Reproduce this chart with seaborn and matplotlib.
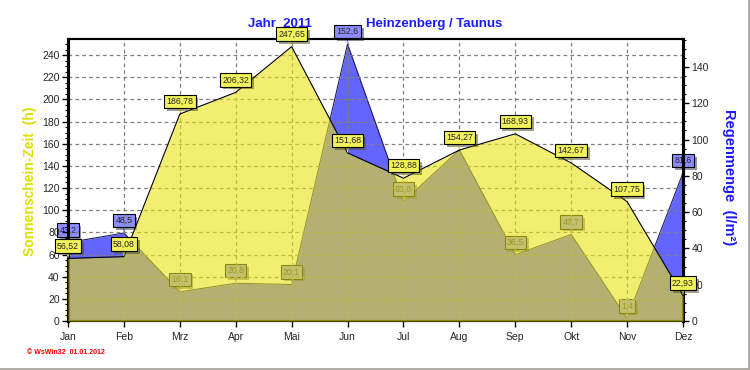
import numpy as np
import pandas as pd
import seaborn as sns
import matplotlib.pyplot as plt
from matplotlib.ticker import MultipleLocator
from matplotlib.lines import Line2D
import matplotlib.patheffects as pe

# Monatswerte 2011
monate = ['Jan', 'Feb', 'Mrz', 'Apr', 'Mai', 'Jun', 'Jul', 'Aug', 'Sep', 'Okt', 'Nov', 'Dez']
sonne = [56.52, 58.08, 186.78, 206.32, 247.65, 151.68, 128.88, 154.27, 168.93, 142.67, 107.75, 22.93]
regen = [43.2, 48.5, 16.1, 20.8, 20.1, 152.6, 65.8, 94.3, 36.5, 47.7, 1.4, 81.6]

df = pd.DataFrame({'monat': monate, 'sonne': sonne, 'regen': regen})
df['pos'] = np.arange(len(df))

sns.set_style('white')
plt.rcParams['font.family'] = ['Liberation Sans', 'DejaVu Sans']

fig = plt.figure(figsize=(7.5, 3.7), dpi=100)
ax = fig.add_axes([68/750, 1-321/370, 615/750, 282/370])
ax2 = ax.twinx()

# Sonne oben zeichnen (halbtransparent ueber Regen)
ax.set_zorder(ax2.get_zorder() + 1)
ax.patch.set_visible(False)
ax2.patch.set_facecolor('white')

# Regenmenge
ax2.fill_between(df['pos'], 0, df['regen'], color='#6464ff', lw=0, zorder=1)
sns.lineplot(data=df, x='pos', y='regen', ax=ax2, color='#202060', lw=0.8, zorder=2)

# Sonnenschein
ax.fill_between(df['pos'], 0, df['sonne'], color='#e8e414', alpha=0.6, lw=0, zorder=3)
sns.lineplot(data=df, x='pos', y='sonne', ax=ax, color='black', lw=0.8, zorder=4)

ax.grid(True, color='#808080', linestyle=(0, (3, 2.5)), linewidth=0.9)
ax.set_axisbelow(True)


def label(axis, x, y, txt, fc, z):
    t = axis.annotate(txt, (x, y), xytext=(0, 9), textcoords='offset points',
                      ha='center', va='center', fontsize=6.3, zorder=z,
                      bbox=dict(boxstyle='square,pad=0.25', fc=fc, ec='black', lw=0.8),
                      arrowprops=dict(arrowstyle='wedge,tail_width=0.35,shrink_factor=0.5',
                                      fc=fc, ec='none', shrinkA=0, shrinkB=0))
    t.get_bbox_patch().set_path_effects([pe.SimplePatchShadow(offset=(2, -2), alpha=0.5), pe.Normal()])
    return t


for i, v in enumerate(regen):
    if monate[i] == 'Aug':
        continue
    label(ax2, i, v, f'{v:g}'.replace('.', ','), '#8c8cff', 5)
for i, v in enumerate(sonne):
    label(ax, i, v, f'{v:.2f}'.replace('.', ','), '#f2f25a', 6)

ax.set_xlim(0, 11)
ax.set_xticks(df['pos'], monate)
ax.xaxis.set_minor_locator(MultipleLocator(0.25))
ax.yaxis.set_major_locator(MultipleLocator(20))
ax.yaxis.set_minor_locator(MultipleLocator(5))
ax2.yaxis.set_major_locator(MultipleLocator(20))
ax2.yaxis.set_minor_locator(MultipleLocator(5))
ax.set_ylim(0, 254.5)
ax2.set_ylim(0, 155.4)
ax.set_xlabel('')
ax.set_ylabel('')
ax2.set_ylabel('')

for a in (ax, ax2):
    a.tick_params(which='major', direction='out', length=4, width=1, labelsize=7.5, color='black', pad=2)
    a.tick_params(which='minor', direction='out', length=2, width=0.8, color='black')
    for s in a.spines.values():
        s.set_color('black')
    a.spines['left'].set_linewidth(2.2)
    a.spines['right'].set_linewidth(2.2)
    a.spines['top'].set_linewidth(1.5)
    a.spines['bottom'].set_linewidth(1.5)
ax.tick_params(axis='y', which='both', left=True, right=False)
ax.tick_params(axis='x', which='major', bottom=True, pad=4)
ax2.tick_params(axis='y', which='both', right=True, left=False)

# Titel und Achsentitel
fig.text(280/750, 1-24/370, 'Jahr  2011', color='#1a1aff', fontsize=9.5, fontweight='bold', ha='center', va='center')
fig.text(434/750, 1-24/370, 'Heinzenberg / Taunus', color='#1a1aff', fontsize=9.5, fontweight='bold', ha='center', va='center')
fig.text(30/750, 1-181/370, 'Sonnenschein-Zeit  (h)', color='#dede00', fontsize=10, fontweight='bold',
         rotation=90, ha='center', va='center')
fig.text(729/750, 1-177/370, 'Regenmenge  (l/m²)', color='#1a1aff', fontsize=10.5, fontweight='bold',
         rotation=270, ha='center', va='center')
fig.text(27/750, 1-352/370, '© WsWin32  01.01.2012', color='red', fontsize=5, fontweight='bold', ha='left', va='center')

# Rahmen rechts/unten
fig.add_artist(Line2D([0.998, 0.998], [0, 1], transform=fig.transFigure, color='#a8a8a0', lw=2))
fig.add_artist(Line2D([0, 1], [0.004, 0.004], transform=fig.transFigure, color='#a8a8a0', lw=2))

fig.savefig('out.png', dpi=100)
